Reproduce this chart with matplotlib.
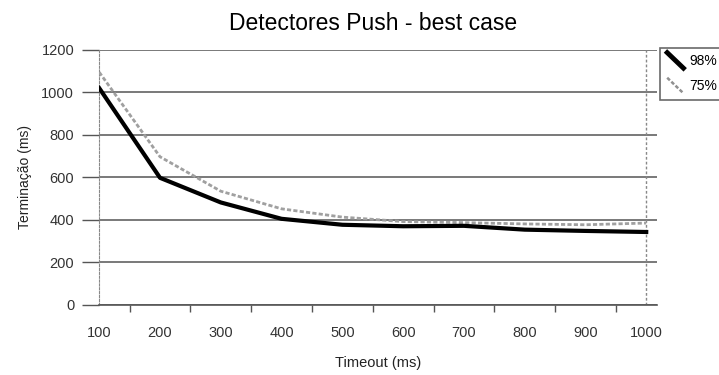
import numpy as np
import matplotlib
matplotlib.use("Agg")
import matplotlib.pyplot as plt
from matplotlib.lines import Line2D
from matplotlib.legend_handler import HandlerLine2D

plt.rcParams["font.family"] = ["Liberation Sans", "DejaVu Sans"]

# --- data -----------------------------------------------------------------
timeouts = ["100", "200", "300", "400", "500", "600", "700", "800", "900", "1000"]
p98 = [1020, 598, 482, 405, 377, 370, 372, 354, 348, 343]
p75 = [1095, 697, 535, 452, 413, 392, 387, 381, 377, 385]
y_ticks = [0, 200, 400, 600, 800, 1000, 1200]


class DiagHandler(HandlerLine2D):
    # legend key drawn as a short diagonal stroke, like the scanned original
    def create_artists(self, legend, orig_handle, xdescent, ydescent,
                       width, height, fontsize, trans):
        line = Line2D([0.05 * width, 0.95 * width],
                      [1.3 * height, -0.3 * height])
        self.update_prop(line, orig_handle, legend)
        line.set_transform(trans)
        return [line]


fig = plt.figure(figsize=(7.19, 3.75), dpi=100)
ax = fig.add_axes([0.138, 0.187, 0.776, 0.68])

x = np.arange(len(timeouts))
ax.plot(x, p75, color="#a0a0a0", lw=2.0, ls=(0, (1.5, 0.8)), label="75%", zorder=3)
ax.plot(x, p98, color="black", lw=3.0, label="98%", zorder=4)

ax.set_xlim(0, 9.18)
ax.set_ylim(0, 1200)
ax.set_yticks(y_ticks)
ax.set_xticks(x)
ax.set_xticklabels(timeouts, fontsize=10.5, color="#333333")
ax.set_xticks(x[:-1] + 0.5, minor=True)
ax.tick_params(axis="x", which="major", length=0, pad=15)
ax.tick_params(axis="x", which="minor", length=5, width=1, color="#555555", direction="out")
ax.tick_params(axis="y", length=12, width=1, color="#555555", labelsize=10.5,
               labelcolor="#333333", pad=6)

ax.grid(axis="y", color="#555555", lw=1.1)
ax.set_axisbelow(True)
for s in ["top", "right"]:
    ax.spines[s].set_visible(False)
ax.spines["left"].set_color("#888888")
ax.spines["left"].set_linestyle((0, (2, 1.5)))
ax.spines["bottom"].set_color("#555555")
ax.spines["bottom"].set_linewidth(1.2)
ax.axvline(9, color="#888888", lw=1, ls=(0, (2, 1.5)), zorder=1)

ax.set_title("Detectores Push - best case", fontsize=16.5, pad=14, x=9 / 9.18 / 2)
ax.set_xlabel("Timeout (ms)", fontsize=10.5, labelpad=12, color="#222222")
ax.set_ylabel("Terminação (ms)", fontsize=10, labelpad=7, color="#222222")

h98 = Line2D([], [], color="black", lw=3.5)
h75 = Line2D([], [], color="#909090", lw=1.8, ls=(0, (1.5, 0.8)))
leg = fig.legend([h98, h75], ["98%", "75%"], loc="upper left",
                 bbox_to_anchor=(0.918, 0.872), fontsize=10, frameon=True,
                 fancybox=False, edgecolor="#444444", handlelength=1.3,
                 handletextpad=0.35, borderpad=0.45, labelspacing=0.8,
                 borderaxespad=0, handler_map={Line2D: DiagHandler()})
leg.get_frame().set_linewidth(1.2)

fig.savefig("out.png", dpi=100)
